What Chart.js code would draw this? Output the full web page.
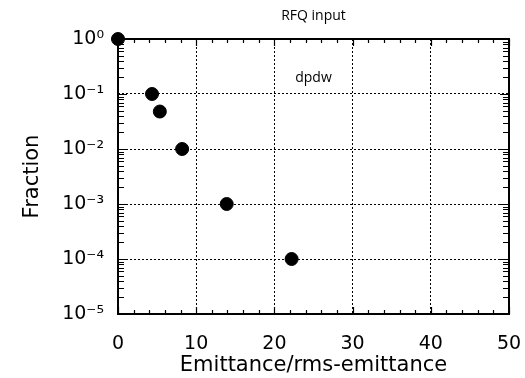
<!DOCTYPE html>
<html>
<head>
<meta charset="utf-8">
<script src="https://cdn.jsdelivr.net/npm/chart.js@4/dist/chart.umd.min.js"></script>
<style>
  html, body { margin: 0; padding: 0; background: #fff; overflow: hidden; }
  #wrap { width: 525px; height: 378px; }
  canvas { display: block; }
</style>
</head>
<body>
<div id="wrap"><canvas id="c" width="525" height="378"></canvas></div>
<script>
// Measured beam fractions beyond a given emittance ratio
const emittanceRatio = [0, 4.35, 5.35, 8.2, 13.9, 22.2];
const fraction = [1, 0.1, 0.048, 0.01, 0.001, 0.0001];

const chartTitle = 'RFQ input';
const noteText = 'dpdw';
const xTitle = 'Emittance/rms-emittance';
const yTitle = 'Fraction';
const xRange = [0, 50];
const xMajorStep = 10;
const xMinorStep = 2;
const yDecades = [-5, -4, -3, -2, -1, 0];

const SUP = { '0': '\u2070', '1': '\u00B9', '2': '\u00B2', '3': '\u00B3', '4': '\u2074',
  '5': '\u2075', '6': '\u2076', '7': '\u2077', '8': '\u2078', '9': '\u2079', '-': '\u207B' };
const sup = s => String(s).split('').map(ch => SUP[ch] || ch).join('');

const isDecade = v => Math.abs(Math.log10(v) - Math.round(Math.log10(v))) < 1e-9;

// Frame, inward ticks and text annotations
const framePlugin = {
  id: 'frame',
  beforeDatasetsDraw(chart) {
    const { ctx, chartArea: a, scales: { x, y } } = chart;
    ctx.save();
    ctx.strokeStyle = '#000';
    ctx.lineWidth = 1.2;
    ctx.setLineDash([]);
    ctx.beginPath();
    x.ticks.forEach(t => {
      const px = Math.round(x.getPixelForValue(t.value)) + 0.5;
      const len = t.value % xMajorStep === 0 ? 7 : 4;
      ctx.moveTo(px, a.bottom); ctx.lineTo(px, a.bottom - len);
      ctx.moveTo(px, a.top); ctx.lineTo(px, a.top + len);
    });
    y.ticks.forEach(t => {
      const py = Math.round(y.getPixelForValue(t.value)) + 0.5;
      const len = isDecade(t.value) ? 9 : 6;
      ctx.moveTo(a.left, py); ctx.lineTo(a.left + len, py);
      ctx.moveTo(a.right, py); ctx.lineTo(a.right - len, py);
    });
    ctx.stroke();
    ctx.lineWidth = 2;
    ctx.strokeRect(a.left, a.top, a.right - a.left, a.bottom - a.top);

    ctx.fillStyle = '#000';
    ctx.textAlign = 'center';
    ctx.textBaseline = 'middle';
    ctx.font = '14px "Open Sans"';
    ctx.fillText(chartTitle, (a.left + a.right) / 2, 16);
    ctx.fillText(noteText, (a.left + a.right) / 2, a.top + 39);
    ctx.restore();
  }
};

new Chart(document.getElementById('c'), {
  type: 'scatter',
  data: {
    datasets: [{
      data: emittanceRatio.map((v, i) => ({ x: v, y: fraction[i] })),
      backgroundColor: '#000',
      borderColor: '#000',
      pointRadius: 6.5,
      pointHoverRadius: 6.5,
      clip: false
    }]
  },
  options: {
    responsive: false,
    animation: false,
    devicePixelRatio: 1,
    layout: { padding: { top: 39, right: 16, left: 0, bottom: 0 } },
    plugins: { legend: { display: false }, title: { display: false }, tooltip: { enabled: false } },
    scales: {
      x: {
        type: 'linear',
        min: xRange[0], max: xRange[1],
        afterBuildTicks(scale) {
          const t = [];
          for (let v = xRange[0]; v <= xRange[1]; v += xMinorStep) t.push({ value: v });
          scale.ticks = t;
        },
        afterFit(scale) {
          scale.height = 64;
          scale.paddingLeft = 0; scale.paddingRight = 0;
        },
        ticks: {
          autoSkip: false, maxRotation: 0, padding: 19,
          color: '#000', font: { family: 'DejaVu Sans', size: 19 },
          callback: v => (v % xMajorStep === 0 ? String(v) : '')
        },
        grid: {
          drawTicks: false,
          lineWidth: 1,
          color: c => (c.tick && c.tick.value % xMajorStep === 0 ? '#000' : 'rgba(0,0,0,0)')
        },
        border: { display: false, dash: [2, 2] },
        title: {
          display: true, text: xTitle, color: '#000',
          font: { family: 'DejaVu Sans', size: 21 }, padding: { top: 0, bottom: 0 }
        }
      },
      y: {
        type: 'logarithmic',
        min: Math.pow(10, yDecades[0]), max: Math.pow(10, yDecades[yDecades.length - 1]),
        afterBuildTicks(scale) {
          const t = [];
          for (let i = 0; i < yDecades.length; i++) {
            const base = Math.pow(10, yDecades[i]);
            if (i === yDecades.length - 1) { t.push({ value: base }); break; }
            for (let k = 1; k <= 9; k++) t.push({ value: parseFloat((k * base).toPrecision(6)) });
          }
          scale.ticks = t;
        },
        afterFit(scale) {
          scale.width = 118;
          scale.paddingTop = 0; scale.paddingBottom = 0;
        },
        ticks: {
          autoSkip: false, padding: 14,
          color: '#000', font: { family: 'DejaVu Sans', size: 19 },
          callback: v => (isDecade(v) ? '10' + sup(Math.round(Math.log10(v))) : '')
        },
        grid: {
          drawTicks: false,
          lineWidth: 1,
          color: c => (c.tick && isDecade(c.tick.value) ? '#000' : 'rgba(0,0,0,0)')
        },
        border: { display: false, dash: [2, 2] },
        title: {
          display: true, text: yTitle, color: '#000',
          font: { family: 'DejaVu Sans', size: 21 }, padding: { top: 20, bottom: 0 }
        }
      }
    }
  },
  plugins: [framePlugin]
});
</script>
</body>
</html>
